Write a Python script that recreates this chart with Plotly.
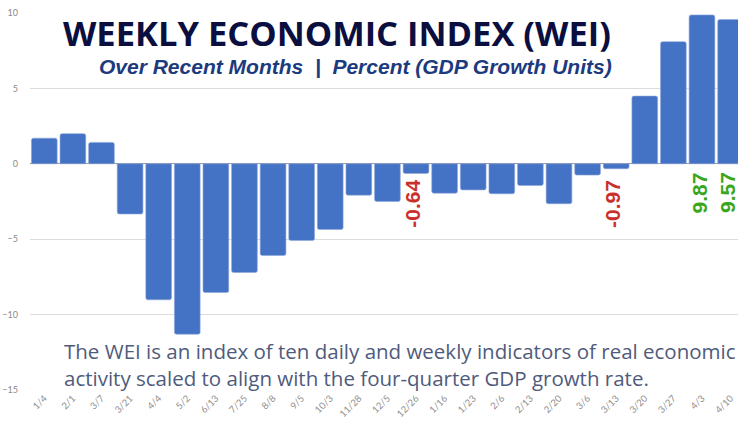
import plotly.graph_objects as go

categories = ["1/4", "2/1", "3/7", "3/21", "4/4", "5/2", "6/13", "7/25", "8/8", "9/5",
              "10/3", "11/28", "12/5", "12/26", "1/16", "1/23", "2/6", "2/13", "2/20",
              "3/6", "3/13", "3/20", "3/27", "4/3", "4/10"]
values = [1.70, 2.0, 1.42, -3.33, -9.02, -11.3, -8.54, -7.21, -6.08, -5.09,
          -4.36, -2.08, -2.50, -0.64, -1.95, -1.73, -1.99, -1.44, -2.65,
          -0.75, -0.33, 4.49, 8.10, 9.87, 9.57]

# highlighted labels
label_cats = ["12/26", "3/13", "4/3", "4/10"]
label_texts = ["-0.64", "-0.97", "9.87", "9.57"]
label_colors = ["#c9302c", "#c9302c", "#3aa61c", "#3aa61c"]
label_y = [-2.65, -2.65, -1.9, -1.9]

y_ticks = [10, 5, 0, -5, -10, -15]

fig = go.Figure()
fig.add_trace(go.Bar(
    x=list(range(len(categories))), y=values,
    marker=dict(color="#4472c4", line=dict(color="#8ea7dc", width=0.6)),
    hoverinfo="x+y",
))

for c, t, col, ly in zip(label_cats, label_texts, label_colors, label_y):
    fig.add_annotation(
        x=categories.index(c), y=ly, xref="x", yref="y", xshift=-3,
        text=f"<b>{t}</b>", textangle=-90, showarrow=False,
        font=dict(family="Liberation Sans", size=21, color=col),
    )

W, H = 738, 421
L, R, T, B = 30, 0, 13, 31
pw, ph = W - L - R, H - T - B

title_anns = [
    dict(x=337, y=33, text="<b>WEEKLY ECONOMIC INDEX (WEI)</b>",
         font=dict(family="Open Sans", size=34.5, color="#0b0f3f", weight=800)),
    dict(x=355, y=66, text="<b><i>Over Recent Months  |  Percent (GDP Growth Units)</i></b>",
         font=dict(family="Liberation Sans", size=21, color="#1c3a7e")),
    dict(x=62, y=351, text="The WEI is an index of ten daily and weekly indicators of real economic",
         font=dict(family="Open Sans", size=20.5, color="#4f5b7c"), xanchor="left"),
    dict(x=62, y=378, text="activity scaled to align with the four-quarter GDP growth rate.",
         font=dict(family="Open Sans", size=20.5, color="#4f5b7c"), xanchor="left"),
]
for a in title_anns:
    fig.add_annotation(
        x=(a["x"] - L) / pw, y=1 - (a["y"] - T) / ph, xref="paper", yref="paper",
        text=a["text"], showarrow=False, font=a["font"],
        xanchor=a.get("xanchor", "center"), yanchor="middle",
    )

fig.update_layout(
    width=W, height=H,
    margin=dict(l=L, r=R, t=T, b=B, autoexpand=False),
    plot_bgcolor="white", paper_bgcolor="white",
    bargap=0.1, barcornerradius=2,
    showlegend=False,
    xaxis=dict(
        tickmode="array", tickvals=list(range(len(categories))), ticktext=categories,
        tickangle=-45, range=[-0.5, 24.26], showgrid=False, zeroline=False,
        tickfont=dict(family="Lato", size=9.5, color="#8f8f8f"), showline=False,
        ticks="", automargin=False,
    ),
    yaxis=dict(
        range=[-15, 10], tickvals=y_ticks, showgrid=True, gridcolor="#dcdcdc",
        gridwidth=1, zeroline=True, zerolinecolor="#9a9aa6", zerolinewidth=1,
        tickfont=dict(family="Lato", size=9, color="#8a8a8a"), ticks="",
        ticklabelstandoff=11, automargin=False,
    ),
)

fig.write_html(
    "out.html",
    config={"displayModeBar": False},
    post_script="document.body.style.margin='0';document.body.style.overflow='hidden';",
)
